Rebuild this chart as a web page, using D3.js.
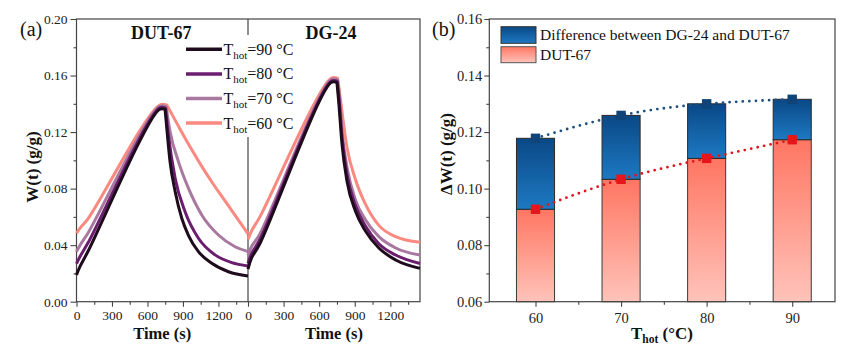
<!DOCTYPE html>
<html><head><meta charset="utf-8">
<script src="https://cdn.jsdelivr.net/npm/d3@7"></script>
<style>
html,body{margin:0;padding:0;background:#fff;}
svg{display:block;font-family:"Liberation Serif","Times New Roman",serif;}
svg text{font-family:"Liberation Serif","Times New Roman",serif;}
</style></head>
<body><svg id="c" width="852" height="364"></svg>
<script>
// ---------- Data (a): W(t) curves, [time s, W g/g] ----------
const seriesLabels = ["90", "80", "70", "60"];
// adsorption branch (rising) and desorption branch (falling) for each curve
const dut90Up = [[0,0.019],[30,0.025],[100,0.036],[700,0.136],[749,0.136]];
const dut90Down = [[749,0.136],[763,0.123],[791,0.099],[834,0.078],[890,0.059],[946,0.047],[1031,0.0354],[1144,0.0272],[1285,0.0212],[1450,0.0182]];
const dut80Up = [[0,0.027],[30,0.032],[100,0.042],[700,0.137],[753,0.137]];
const dut80Down = [[753,0.137],[777,0.118],[834,0.0874],[918,0.0637],[1031,0.0449],[1172,0.0331],[1313,0.0276],[1450,0.0253]];
const dut70Up = [[0,0.0354],[30,0.040],[100,0.049],[700,0.138],[758,0.138]];
const dut70Down = [[758,0.138],[791,0.1204],[862,0.0991],[946,0.0803],[1059,0.0614],[1200,0.0472],[1341,0.0389],[1450,0.0355]];
const dut60Up = [[0,0.0484],[30,0.052],[100,0.059],[700,0.139],[765,0.139]];
const dut60Down = [[765,0.139],[850,0.126],[950,0.111],[1050,0.097],[1150,0.084],[1250,0.072],[1350,0.060],[1450,0.048]];
const dg90Up = [[0,0.023],[30,0.031],[100,0.041],[700,0.155],[750,0.155]];
const dg90Down = [[750,0.155],[764,0.142],[793,0.111],[835,0.085],[906,0.064],[990,0.050],[1103,0.038],[1245,0.0295],[1450,0.0236]];
const dg80Up = [[0,0.027],[30,0.034],[100,0.044],[700,0.156],[752,0.156]];
const dg80Down = [[752,0.156],[766,0.145],[793,0.116],[835,0.090],[906,0.068],[990,0.0535],[1103,0.041],[1245,0.033],[1450,0.027]];
const dg70Up = [[0,0.033],[30,0.039],[100,0.048],[700,0.157],[754,0.157]];
const dg70Down = [[754,0.157],[768,0.148],[793,0.120],[835,0.095],[906,0.072],[990,0.058],[1103,0.046],[1245,0.038],[1450,0.033]];
const dg60Up = [[0,0.044],[30,0.050],[100,0.060],[700,0.158],[756,0.158]];
const dg60Down = [[756,0.158],[775,0.146],[793,0.134],[835,0.109],[906,0.0865],[990,0.069],[1103,0.054],[1245,0.046],[1450,0.042]];
const timeTicks = [0, 300, 600, 900, 1200];
const timeMinor = [150, 450, 750, 1050, 1350];
const wTicks = [0, 0.04, 0.08, 0.12, 0.16, 0.20];
const wMinor = [0.02, 0.06, 0.10, 0.14, 0.18];

// ---------- Data (b): bars ----------
const tHot = [60, 70, 80, 90];
const dutValues = [0.0927, 0.1033, 0.1107, 0.1173];
const dgValues = [0.1178, 0.1259, 0.1300, 0.1316];
const dwTicks = [0.06, 0.08, 0.10, 0.12, 0.14, 0.16];
const dwMinor = [0.07, 0.09, 0.11, 0.13, 0.15];
const tHotMinor = [65, 75, 85];

// ---------- Styles ----------
const FONT = '"Liberation Serif", "Times New Roman", serif';
const colors = {"90":"#1e0c1c","80":"#6b1d6e","70":"#a9789f","60":"#fa8a80"};
const axisColor = "#444";
const svg = d3.select("#c");
const defs = svg.append("defs");
function grad(id, top, bottom){
  const g = defs.append("linearGradient").attr("id", id).attr("x1",0).attr("y1",0).attr("x2",0).attr("y2",1);
  g.append("stop").attr("offset","0%").attr("stop-color",top);
  g.append("stop").attr("offset","100%").attr("stop-color",bottom);
}
grad("gBlue", "#0a4886", "#1d79c2");
grad("gRed", "#ff7662", "#ffc3ba");

function styleAxis(g, fs){
  g.attr("font-family", FONT).attr("font-size", fs);
  g.select(".domain").remove();
  g.selectAll("line").attr("stroke", axisColor).attr("stroke-width", 1.1);
  g.selectAll("text").attr("fill", "#222").attr("font-family", FONT).attr("font-size", fs);
}

// ================= Panel (a) =================
const A = {l:76.5, r:420, t:19, b:301.7, m:248};
const yA = d3.scaleLinear().domain([0, 0.20]).range([A.b, A.t]);
const xA1 = d3.scaleLinear().domain([0, 1450]).range([A.l, A.m]);
const xA2 = d3.scaleLinear().domain([0, 1450]).range([A.m, A.r]);

let g = svg.append("g").attr("transform", `translate(${A.l},0)`).call(d3.axisLeft(yA).tickValues(wTicks).tickSize(6).tickPadding(3).tickFormat(d3.format(".2f")));
styleAxis(g, 13.5);
g = svg.append("g").attr("transform", `translate(${A.l},0)`).call(d3.axisLeft(yA).tickValues(wMinor).tickSize(3).tickFormat(""));
styleAxis(g, 13.5);
[xA1, xA2].forEach(xs => {
  let gx = svg.append("g").attr("transform", `translate(0,${A.b})`).call(d3.axisBottom(xs).tickValues(timeTicks).tickSize(5).tickPadding(4).tickFormat(d3.format("d")));
  styleAxis(gx, 13.5);
  gx = svg.append("g").attr("transform", `translate(0,${A.b})`).call(d3.axisBottom(xs).tickValues(timeMinor).tickSize(3).tickFormat(""));
  styleAxis(gx, 13.5);
});
svg.append("rect").attr("x", A.l).attr("y", A.t).attr("width", A.r - A.l).attr("height", A.b - A.t)
  .attr("fill", "none").attr("stroke", axisColor).attr("stroke-width", 1.2);
svg.append("line").attr("x1", A.m).attr("x2", A.m).attr("y1", A.t).attr("y2", 35).attr("stroke", axisColor).attr("stroke-width", 1.2);
svg.append("line").attr("x1", A.m).attr("x2", A.m).attr("y1", 137).attr("y2", A.b).attr("stroke", axisColor).attr("stroke-width", 1.2);

// curves
const dutSeries = {"90":[dut90Up,dut90Down], "80":[dut80Up,dut80Down], "70":[dut70Up,dut70Down], "60":[dut60Up,dut60Down]};
const dgSeries = {"90":[dg90Up,dg90Down], "80":[dg80Up,dg80Down], "70":[dg70Up,dg70Down], "60":[dg60Up,dg60Down]};
const drawOrder = ["60", "70", "80", "90"];
[[dutSeries, xA1], [dgSeries, xA2]].forEach(([ser, xs]) => {
  const upLine = d3.line().x(d => xs(d[0])).y(d => yA(d[1])).curve(d3.curveCatmullRom.alpha(0.5));
  const downLine = d3.line().x(d => xs(d[0])).y(d => yA(d[1])).curve(d3.curveMonotoneX);
  drawOrder.forEach(k => {
    const [up, down] = ser[k];
    const d = upLine(up) + "L" + downLine(down).slice(1);
    svg.append("path").attr("d", d).attr("fill", "none")
      .attr("stroke", colors[k]).attr("stroke-width", 3).attr("stroke-linejoin", "round");
  });
});

// titles
function bold(x, y, txt, fs, anchor){
  return svg.append("text").attr("x", x).attr("y", y).attr("text-anchor", anchor || "middle")
    .attr("font-size", fs).attr("font-weight", "bold").attr("fill", "#111").text(txt);
}
bold((A.l + A.m) / 2 - 1, 39, "DUT-67", 18);
bold((A.m + A.r) / 2 - 3, 39, "DG-24", 18);
svg.append("text").attr("x", 20).attr("y", 36).attr("font-size", 20).attr("fill", "#111").text("(a)");
svg.append("text").attr("transform", "translate(38,167) rotate(-90)").attr("text-anchor", "middle")
  .attr("font-size", 17).attr("font-weight", "bold").attr("fill", "#111").text("W(t) (g/g)");
[xA1, xA2].forEach(xs => bold(xs(725), 338.5, "Time (s)", 16.5));

// legend (a)
seriesLabels.forEach((k, i) => {
  const y = 49.3 + i * 24.6;
  svg.append("line").attr("x1", 186).attr("x2", 222).attr("y1", y).attr("y2", y)
    .attr("stroke", colors[k]).attr("stroke-width", 3.5);
  const t = svg.append("text").attr("x", 223.5).attr("y", y + 5.5).attr("font-size", 16).attr("fill", "#111");
  t.append("tspan").text("T");
  t.append("tspan").attr("dy", 4).attr("font-size", 11).text("hot");
  t.append("tspan").attr("dy", -4).text("=" + k + " \u00B0C");
});

// ================= Panel (b) =================
const B = {l:489.3, r:835, t:19, b:301.7};
const yB = d3.scaleLinear().domain([0.06, 0.16]).range([B.b, B.t]);
const xB = d3.scaleLinear().domain([54.6, 95]).range([B.l, B.r]);
const barW = 4.45;

g = svg.append("g").attr("transform", `translate(${B.l},0)`).call(d3.axisLeft(yB).tickValues(dwTicks).tickSize(5).tickPadding(2).tickFormat(d3.format(".2f")));
styleAxis(g, 14.5);
g = svg.append("g").attr("transform", `translate(${B.l},0)`).call(d3.axisLeft(yB).tickValues(dwMinor).tickSize(3).tickFormat(""));
styleAxis(g, 14.5);
g = svg.append("g").attr("transform", `translate(0,${B.b})`).call(d3.axisBottom(xB).tickValues(tHot).tickSize(5).tickPadding(6));
styleAxis(g, 14.5);
g = svg.append("g").attr("transform", `translate(0,${B.b})`).call(d3.axisBottom(xB).tickValues(tHotMinor).tickSize(3).tickFormat(""));
styleAxis(g, 14.5);

tHot.forEach((t, i) => {
  const x0 = xB(t - barW / 2), w = xB(t + barW / 2) - x0;
  svg.append("rect").attr("x", x0).attr("y", yB(dutValues[i])).attr("width", w).attr("height", yB(0.06) - yB(dutValues[i]))
    .attr("fill", "url(#gRed)").attr("stroke", "#3a3a3a").attr("stroke-width", 1);
  svg.append("rect").attr("x", x0).attr("y", yB(dgValues[i])).attr("width", w).attr("height", yB(dutValues[i]) - yB(dgValues[i]))
    .attr("fill", "url(#gBlue)").attr("stroke", "#2a2a2a").attr("stroke-width", 1);
});
svg.append("rect").attr("x", B.l).attr("y", B.t).attr("width", B.r - B.l).attr("height", B.b - B.t)
  .attr("fill", "none").attr("stroke", axisColor).attr("stroke-width", 1.2);

const dotLine = d3.line().x(d => xB(d[0])).y(d => yB(d[1])).curve(d3.curveNatural);
[[dgValues, "#1a4f82", "#0e4477"], [dutValues, "#e0161e", "#e8141c"]].forEach(([vals, lc, mc]) => {
  const pts = tHot.map((t, i) => [t, vals[i]]);
  svg.append("path").attr("d", dotLine(pts)).attr("fill", "none").attr("stroke", lc)
    .attr("stroke-width", 2.8).attr("stroke-linecap", "round").attr("stroke-dasharray", "0 6.6");
  pts.forEach(p => {
    svg.append("rect").attr("x", xB(p[0]) - 4.7).attr("y", yB(p[1]) - 4.7).attr("width", 9.4).attr("height", 9.4)
      .attr("fill", mc);
  });
});

svg.append("rect").attr("x", 501).attr("y", 26.7).attr("width", 35).attr("height", 16.6).attr("fill", "url(#gBlue)").attr("stroke", "#333").attr("stroke-width", 1);
svg.append("rect").attr("x", 501).attr("y", 46.7).attr("width", 35).attr("height", 16).attr("fill", "url(#gRed)").attr("stroke", "#555").attr("stroke-width", 1);
svg.append("text").attr("x", 540).attr("y", 40).attr("font-size", 15.5).attr("fill", "#111").text("Difference between DG-24 and DUT-67");
svg.append("text").attr("x", 540).attr("y", 60).attr("font-size", 15.5).attr("fill", "#111").text("DUT-67");

svg.append("text").attr("x", 432).attr("y", 36).attr("font-size", 20).attr("fill", "#111").text("(b)");
svg.append("text").attr("transform", "translate(452,154) rotate(-90)").attr("text-anchor", "middle")
  .attr("font-size", 17).attr("font-weight", "bold").attr("fill", "#111").text("\u0394W(t) (g/g)");
const xt = svg.append("text").attr("x", 662).attr("y", 339).attr("text-anchor", "middle")
  .attr("font-size", 17).attr("font-weight", "bold").attr("fill", "#111");
xt.append("tspan").text("T");
xt.append("tspan").attr("dy", 4).attr("font-size", 11.5).text("hot");
xt.append("tspan").attr("dy", -4).text(" (\u00B0C)");
</script></body></html>
